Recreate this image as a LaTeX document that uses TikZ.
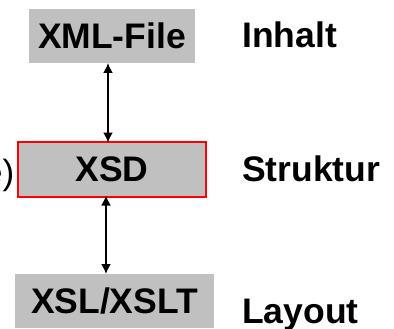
\documentclass[tikz,border=0pt]{standalone}
\usepackage{fontspec}
\setmainfont{Liberation Sans}
\usetikzlibrary{arrows.meta}
\begin{document}
\begin{tikzpicture}[x=1pt,y=-1pt,
  box/.style={fill=boxgray, inner sep=0pt, outer sep=0pt, font=\fontsize{35.5}{40}\selectfont\bfseries},
  lbl/.style={anchor=base west, inner sep=0pt, font=\fontsize{35.5}{40}\selectfont\bfseries},
  conn/.style={{Latex[length=10pt,width=10pt]}-{Latex[length=10pt,width=10pt]}, line width=1.6pt}]
\definecolor{boxgray}{HTML}{C0C0C0}
\useasboundingbox (0,0) rectangle (394,329);
\clip (0,0) rectangle (394,329);
\node[box, minimum width=166pt, minimum height=54pt] (xml) at (112,36) {XML-File};
\node[box, draw=red, line width=2pt, minimum width=188pt, minimum height=55pt] (xsd) at (112,169) {XSD};
\node[box, minimum width=199pt, minimum height=54pt] (xsl) at (114.5,301) {XSL/XSLT};
\node[lbl] (inhalt) at (242,47.7) {Inhalt};
\node[lbl] (struktur) at (242,181.7) {Struktur};
\node[lbl] (layout) at (242,323) {Layout};
\node[anchor=base east, inner sep=0pt, font=\fontsize{35}{40}\selectfont] (frag) at (14.5,184) {e)};
\draw[conn] ([xshift=-4pt]xml.south) -- ([xshift=-4pt,yshift=-1pt]xsd.north);
\draw[conn] ([xshift=-6pt,yshift=1pt]xsd.south) -- ([xshift=-8.5pt]xsl.north);
\end{tikzpicture}
\end{document}
